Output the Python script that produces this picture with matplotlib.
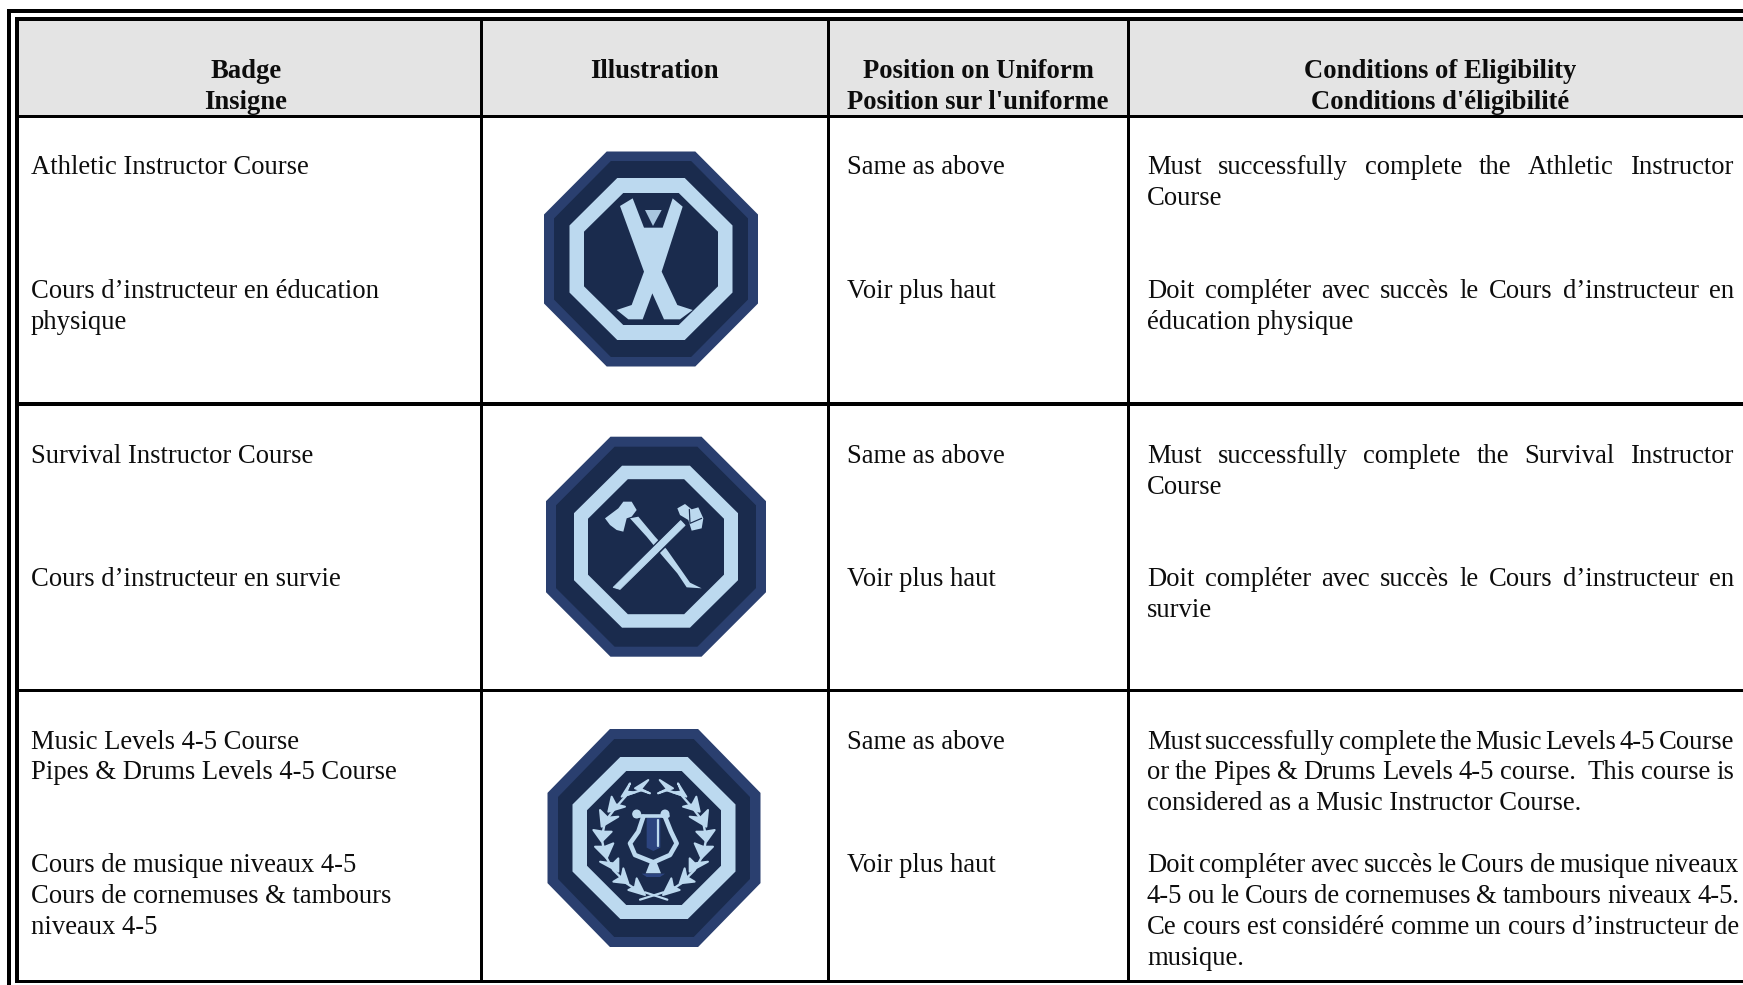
import numpy as np
import matplotlib
matplotlib.use("Agg")
import matplotlib.pyplot as plt
from matplotlib.patches import Polygon, Rectangle, Circle

W, H = 1743, 985
FS = 19.15
plt.rcParams['font.family'] = ['Liberation Serif', 'DejaVu Serif']

col_lines = [481.5, 828.5, 1128.5]
row_lines = [116.4, 404, 690.5, 981.7]
col_centers = [246, 654, 978, 1440]
header_1 = ["Badge", "Illustration", "Position on Uniform", "Conditions of Eligibility"]
header_2 = ["Insigne", "", "Position sur l'uniforme", "Conditions d'éligibilité"]

col1 = [("Athletic Instructor Course", 174), ("Cours d’instructeur en éducation", 298), ("physique", 329),
        ("Survival Instructor Course", 463), ("Cours d’instructeur en survie", 586),
        ("Music Levels 4-5 Course", 749), ("Pipes & Drums Levels 4-5 Course", 779),
        ("Cours de musique niveaux 4-5", 872), ("Cours de cornemuses & tambours", 903), ("niveaux 4-5", 934)]
col3 = [("Same as above", 174), ("Voir plus haut", 298), ("Same as above", 463),
        ("Voir plus haut", 586), ("Same as above", 749), ("Voir plus haut", 872)]
# text, baseline, right edge for justified lines (None = ragged)
col4 = [("Must successfully complete the Athletic Instructor", 174, 1734), ("Course", 205, None),
        ("Doit compléter avec succès le Cours d’instructeur en", 298, 1734), ("éducation physique", 329, None),
        ("Must successfully complete the Survival Instructor", 463, 1734), ("Course", 494, None),
        ("Doit compléter avec succès le Cours d’instructeur en", 586, 1734), ("survie", 617, None),
        ("Must successfully complete the Music Levels 4-5 Course", 749, 1734),
        ("or the Pipes & Drums Levels 4-5 course.  This course is", 779, 1734),
        ("considered as a Music Instructor Course.", 810, None),
        ("Doit compléter avec succès le Cours de musique niveaux", 872, 1739),
        ("4-5 ou le Cours de cornemuses & tambours niveaux 4-5.", 903, 1739),
        ("Ce cours est considéré comme un cours d’instructeur de", 934, 1739),
        ("musique.", 965, None)]

NAVY, DARK, LIGHT, MID = "#2a3f6f", "#1a2b4d", "#bcd9ef", "#2c4480"

fig = plt.figure(figsize=(W / 100, H / 100), dpi=100, facecolor="white")
ax = fig.add_axes([0, 0, 1, 1])
ax.set_xlim(0, W); ax.set_ylim(H, 0); ax.axis("off")
rend = fig.canvas.get_renderer()


def px(v):
    return v * 0.72


# frame and grid
ax.add_patch(Rectangle((17, 19), W, 97, fc="#e4e4e4", ec="none", zorder=0))
BLK = "#000000"
ax.add_patch(Rectangle((7, 9), W, 4.4, fc=BLK, ec="none"))
ax.add_patch(Rectangle((15.5, 17), W, 3.8, fc=BLK, ec="none"))
ax.add_patch(Rectangle((7, 9), 4.4, H, fc=BLK, ec="none"))
ax.add_patch(Rectangle((15.5, 17), 3.6, 966.4, fc=BLK, ec="none"))
for x in col_lines:
    ax.add_patch(Rectangle((x - 1.6, 19), 3.2, row_lines[-1] - 19, fc=BLK, ec="none"))
for y in row_lines:
    ax.add_patch(Rectangle((15.5, y - 1.6), W, 3.2, fc=BLK, ec="none"))


def txt(x, y, s, **kw):
    return ax.text(x, y, s, fontsize=FS, color="#0d0d0d", va="baseline", **kw)


for c, a, b in zip(col_centers, header_1, header_2):
    txt(c, 78, a, ha="center", fontweight="bold")
    if b:
        txt(c, 109, b, ha="center", fontweight="bold")
for s, y in col1:
    txt(31, y, s)
for s, y in col3:
    txt(847, y, s)


def width(s):
    t = ax.text(0, 0, s, fontsize=FS)
    w = t.get_window_extent(rend).width
    t.remove()
    return w


def justified(x0, x1, y, s):
    words = s.split()
    ws = [width(w) for w in words]
    extra_unit = [2 if s.find(words[i] + "  ") >= 0 else 1 for i in range(len(words) - 1)]
    gap = (x1 - x0 - sum(ws)) / sum(extra_unit)
    x = x0
    for i, w in enumerate(words):
        txt(x, y, w)
        if i < len(extra_unit):
            x += ws[i] + gap * extra_unit[i]


for s, y, r in col4:
    if r:
        justified(1147, r, y, s)
    else:
        txt(1147, y, s)


def octagon(cx, cy, hx, hy):
    k = 0.414
    return [(cx - k * hx, cy - hy), (cx + k * hx, cy - hy), (cx + hx, cy - k * hy), (cx + hx, cy + k * hy),
            (cx + k * hx, cy + hy), (cx - k * hx, cy + hy), (cx - hx, cy + k * hy), (cx - hx, cy - k * hy)]


def badge(cx, cy, layers):
    for (hx, hy), c in zip(layers, (NAVY, DARK, LIGHT, DARK)):
        ax.add_patch(Polygon(octagon(cx, cy, hx, hy), fc=c, ec="none", zorder=2))


badge(651, 259, [(107, 107.5), (97, 98), (81.5, 81), (67, 66)])
badge(656, 546.7, [(110, 110), (100, 100), (82, 81), (68, 67.5)])
badge(654, 838, [(106.5, 109), (96, 99), (81.5, 81), (67, 67)])


def poly(pts, ox, oy, c=LIGHT, z=3, grow=0.0):
    ax.add_patch(Polygon([(ox + a / 3, oy + b / 3) for a, b in pts], fc=c, ec=c if grow else "none",
                         lw=px(grow), joinstyle="round", zorder=z))


def stroke(pts, ox, oy, lw, c=LIGHT, z=3):
    p = np.array(pts, float)
    ax.plot(ox + p[:, 0] / 3, oy + p[:, 1] / 3, color=c, lw=px(lw), zorder=z, solid_capstyle="round",
            solid_joinstyle="round")


# athlete
ox, oy = 600, 190
person = [(60, 48), (98, 25), (132, 113), (188, 113), (218, 25), (248, 50), (185, 245), (232, 345), (278, 360),
          (240, 388), (192, 388), (157, 310), (128, 388), (85, 388), (50, 360), (95, 345), (132, 245)]
poly(person, ox, oy)
poly([(135, 60), (185, 60), (159, 108)], ox, oy, "#a9c6df")

# axe and hammer
ox, oy = 590, 490
poly([(120, 85), (145, 80), (195, 140), (230, 178), (270, 235), (300, 278), (335, 295), (290, 292), (262, 250),
      (215, 195), (170, 140)], ox, oy)
poly([(45, 85), (85, 55), (100, 35), (125, 35), (140, 60), (125, 80), (110, 85), (100, 125), (80, 120), (60, 105)],
     ox, oy)
poly([(60, 300), (268, 85), (292, 108), (92, 305)], ox, oy, DARK, 4)
poly([(70, 292), (272, 92), (285, 106), (90, 298)], ox, oy, LIGHT, 5, 1.0)
poly([(258, 60), (285, 38), (305, 52), (328, 48), (345, 85), (340, 120), (303, 127), (292, 95), (268, 82)],
     ox, oy, DARK, 5)
poly([(262, 55), (285, 42), (305, 58), (325, 52), (340, 85), (335, 115), (305, 122), (295, 90), (270, 75)],
     ox, oy, LIGHT, 6)
stroke([(298, 58), (300, 100), (335, 85)], ox, oy, 1.2, DARK, 7)

# lyre and wreath
ox, oy = 585, 775
poly([(185, 128), (226, 128), (226, 218), (205, 228), (185, 218)], ox, oy, MID)
stroke([(218, 135), (218, 212)], ox, oy, 2.2)
for cx in (155, 240):
    ax.add_patch(Circle((ox + cx / 3, oy + 117 / 3), 4.5, fc=LIGHT, ec="none", zorder=3))
stroke([(150, 122), (250, 122)], ox, oy, 3.6)
stroke([(175, 125), (160, 170), (135, 205), (150, 240), (205, 262), (255, 240), (275, 205), (258, 170), (240, 125)],
       ox, oy, 4.6)
poly([(195, 262), (215, 262), (228, 295), (182, 295)], ox, oy)
poly([(170, 296), (240, 296), (225, 306), (185, 306)], ox, oy, MID)

wreath = [(190, 15), (150, 40), (195, 55), (168, 42),
          (135, 25), (110, 65), (150, 52), (125, 50),
          (80, 65), (70, 110), (120, 95), (92, 88),
          (45, 105), (50, 155), (100, 125), (68, 128),
          (25, 165), (50, 200), (80, 170), (55, 170),
          (30, 215), (65, 250), (85, 205), (60, 215),
          (45, 260), (100, 290), (100, 250), (85, 265),
          (85, 320), (130, 325), (115, 280), (110, 305),
          (130, 345), (180, 360), (155, 310), (150, 335)]
leaves = np.array(wreath, float).reshape(-1, 4, 2)
MIRROR = 414
for leaf in leaves:
    poly(leaf, ox, oy, grow=2.0)
    poly([(MIRROR - a, b) for a, b in leaf], ox, oy, grow=2.0)
stem = [(170, 45), (125, 60), (90, 100), (60, 140), (50, 190), (60, 240), (85, 285), (125, 325), (170, 355)]
stroke(stem, ox, oy, 2.4)
stroke([(MIRROR - a, b) for a, b in stem], ox, oy, 2.4)
stroke([(165, 374), (235, 352)], ox, oy, 2.2)
stroke([(247, 374), (180, 352)], ox, oy, 2.2)

fig.savefig("out.png", dpi=100)
